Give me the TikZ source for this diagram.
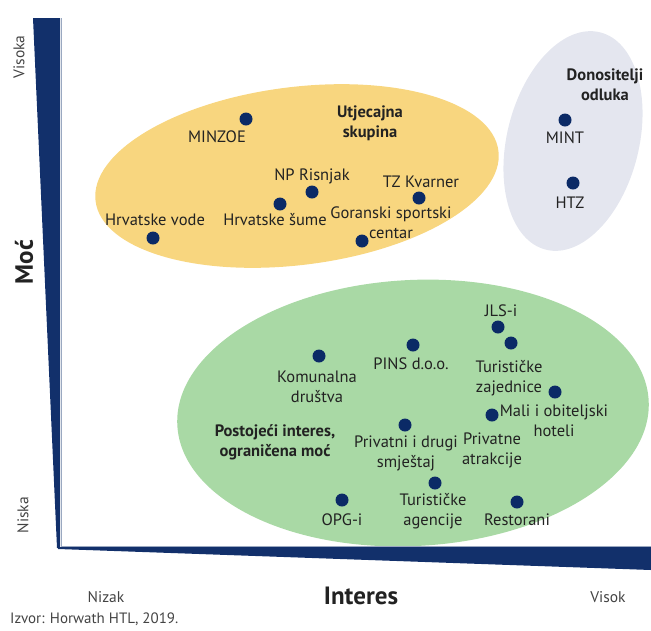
\documentclass[tikz,border=0pt]{standalone}
\usepackage{fontspec}
\setmainfont{PT Sans}
\definecolor{navy}{HTML}{12306B}
\definecolor{dotc}{HTML}{0B2A66}
\definecolor{yel}{HTML}{F8D67F}
\definecolor{gry}{HTML}{E4E6EF}
\definecolor{grn}{HTML}{A9D9A5}
\definecolor{txt}{HTML}{222222}
\definecolor{edge}{HTML}{9AA8C0}
\begin{document}
\begin{tikzpicture}[x=1pt,y=1pt,
  dot/.style={circle, fill=dotc, inner sep=0pt, minimum size=13pt},
  lbl/.style={font=\fontsize{16.5}{20}\selectfont, text=txt, align=center, inner sep=0pt},
  grp/.style={font=\bfseries\fontsize{16.5}{20}\selectfont, text=txt, align=center, inner sep=0pt},
  axl/.style={font=\fontsize{15.5}{18}\selectfont, text=txt!85, inner sep=0pt},
  axt/.style={font=\bfseries\fontsize{25}{28}\selectfont, text=txt, inner sep=0pt}]
\useasboundingbox (0,0) rectangle (651,-630);
% ellipses
\fill[yel, rotate around={7.1:(297,-176)}] (297,-176) ellipse [x radius=203, y radius=89];
\fill[gry, rotate around={-14:(573,-141)}] (573,-141) ellipse [x radius=66, y radius=112];
\fill[grn, rotate around={3:(413,-413)}] (413,-413) ellipse [x radius=236, y radius=133];
% axes
\fill[navy] (33,-18) -- (60,-18) -- (60,-548) -- (57,-548) -- cycle;
\fill[navy] (58,-547) -- (651,-547) -- (651,-570) -- (58,-549) -- cycle;
\draw[edge, line width=0.8pt] (61,-18) -- (61,-546) -- (651,-546);
% axis labels
\node[axl, rotate=90] (visoka) at (19,-57) {Visoka};
\node[axl, rotate=90] (niska) at (23,-515) {Niska};
\node[axt, rotate=90] (moc) at (24,-262) {Moć};
\node[axl] (nizak) at (106,-597) {Nizak};
\node[axt] (interes) at (361,-596) {Interes};
\node[axl] (visok) at (608,-597) {Visok};
\node[axl, anchor=west, font=\fontsize{15}{18}\selectfont] (izvor) at (10,-619) {Izvor: Horwath HTL, 2019.};
% group titles
\node[grp] (g1) at (370,-123) {Utjecajna\\skupina};
\node[grp] (g2) at (605,-85) {Donositelji\\odluka};
\node[grp] (g3) at (275,-442) {Postojeći interes,\\ograničena moć};
% yellow group
\node[dot] (minzoe) at (246,-119) {};
\node[lbl] (minzoeL) at (217,-137) {MINZOE};
\node[dot] (np) at (312,-192) {};
\node[lbl] (npL) at (312,-176) {NP Risnjak};
\node[dot] (hs) at (280,-204) {};
\node[lbl] (hsL) at (275,-220) {Hrvatske šume};
\node[dot] (hv) at (153,-238) {};
\node[lbl] (hvL) at (155,-220) {Hrvatske vode};
\node[dot] (tz) at (419,-198) {};
\node[lbl] (tzL) at (421,-182) {TZ Kvarner};
\node[dot] (gsc) at (362,-241) {};
\node[lbl] (gscL) at (391,-223) {Goranski sportski\\centar};
% gray group
\node[dot] (mint) at (565,-120) {};
\node[lbl] (mintL) at (565,-138) {MINT};
\node[dot] (htz) at (573,-183) {};
\node[lbl] (htzL) at (570,-203) {HTZ};
% green group
\node[dot] (kom) at (319,-356) {};
\node[lbl] (komL) at (317,-387) {Komunalna\\društva};
\node[dot] (pins) at (413,-345) {};
\node[lbl] (pinsL) at (411,-364) {PINS d.o.o.};
\node[dot] (priv) at (405,-425) {};
\node[lbl] (privL) at (406,-453) {Privatni i drugi\\smještaj};
\node[dot] (jls) at (498,-327) {};
\node[lbl] (jlsL) at (501,-311) {JLS-i};
\node[dot] (tzaj) at (511,-343) {};
\node[lbl] (tzajL) at (509,-378) {Turističke\\zajednice};
\node[dot] (mali) at (555,-392) {};
\node[lbl] (maliL) at (554,-421) {Mali i obiteljski\\hoteli};
\node[dot] (pa) at (492,-415) {};
\node[lbl] (paL) at (492,-450) {Privatne\\atrakcije};
\node[dot] (opg) at (342,-500) {};
\node[lbl] (opgL) at (342,-520) {OPG-i};
\node[dot] (ta) at (435,-483) {};
\node[lbl] (taL) at (433,-511) {Turističke\\agencije};
\node[dot] (rest) at (517,-502) {};
\node[lbl] (restL) at (517,-520) {Restorani};
\end{tikzpicture}
\end{document}
